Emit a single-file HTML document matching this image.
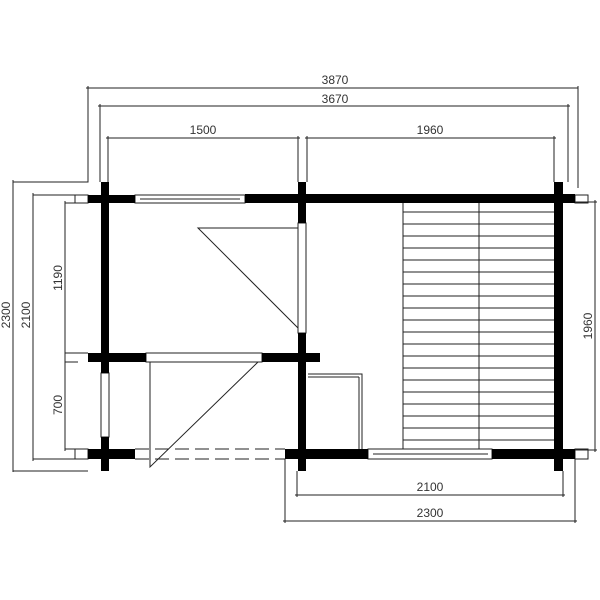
<!DOCTYPE html>
<html><head><style>body{margin:0;background:#fff}svg{display:block}</style></head><body>
<svg width="600" height="600" viewBox="0 0 600 600" xmlns="http://www.w3.org/2000/svg">
<g stroke="#222" stroke-width="1" fill="none">
<line x1="86" y1="88" x2="578" y2="88"/>
<line x1="98" y1="106" x2="570" y2="106"/>
<line x1="106" y1="138" x2="300" y2="138"/>
<line x1="305" y1="138" x2="556" y2="138"/>
<polyline points="88,86 88,182 13,182"/>
<line x1="100" y1="104" x2="100" y2="182"/>
<line x1="568" y1="104" x2="568" y2="182"/>
<line x1="578" y1="86" x2="578" y2="188"/>
<line x1="108" y1="136" x2="108" y2="182"/>
<line x1="298" y1="136" x2="298" y2="182"/>
<line x1="307" y1="136" x2="307" y2="182"/>
<line x1="554" y1="136" x2="554" y2="182"/>
<line x1="13" y1="180" x2="13" y2="472"/>
<line x1="13" y1="471" x2="88" y2="471"/>
<line x1="33" y1="193" x2="33" y2="461"/>
<line x1="33" y1="195" x2="88" y2="195"/>
<line x1="33" y1="459" x2="88" y2="459"/>
<line x1="65" y1="201" x2="65" y2="451"/>
<line x1="65" y1="203" x2="88" y2="203"/>
<line x1="65" y1="353" x2="88" y2="353"/>
<line x1="65" y1="362" x2="78" y2="362"/>
<line x1="65" y1="449" x2="88" y2="449"/>
<rect x="75" y="195" width="13" height="8"/>
<rect x="75" y="449" width="13" height="10"/>
<line x1="595" y1="200" x2="595" y2="452"/>
<line x1="575" y1="202" x2="597" y2="202"/>
<line x1="575" y1="450" x2="597" y2="450"/>
<rect x="575" y="195" width="13" height="8"/>
<rect x="575" y="449" width="13" height="10"/>
<line x1="295" y1="495" x2="565" y2="495"/>
<line x1="283" y1="521" x2="577" y2="521"/>
<line x1="285" y1="459" x2="285" y2="523"/>
<line x1="297" y1="471" x2="297" y2="497"/>
<line x1="563" y1="471" x2="563" y2="497"/>
<line x1="575" y1="459" x2="575" y2="523"/>
<rect x="135" y="195" width="110" height="8"/>
<line x1="140" y1="199" x2="240" y2="199"/>
<rect x="146" y="353" width="116" height="9"/>
<rect x="368" y="449" width="124" height="10"/>
<line x1="373" y1="454" x2="488" y2="454"/>
<rect x="298" y="223" width="8" height="110"/>
<rect x="101" y="373" width="8" height="64"/>
<polyline points="298,228 198,228 298,328"/>
<polyline points="150,362 150,467 258,362"/>
<line x1="135" y1="449" x2="285" y2="449" stroke-dasharray="14,6"/>
<line x1="135" y1="459" x2="285" y2="459" stroke-dasharray="14,6"/>
<polyline points="308,374 362,374 362,449"/>
<line x1="308" y1="377" x2="359" y2="377"/>
<line x1="359" y1="377" x2="359" y2="449"/>
<line x1="403" y1="203" x2="403" y2="449"/>
<line x1="479" y1="203" x2="479" y2="449"/>
</g>
<g stroke="#222" stroke-width="1">
<line x1="403" y1="212" x2="554" y2="212"/><line x1="403" y1="224" x2="554" y2="224"/><line x1="403" y1="236" x2="554" y2="236"/><line x1="403" y1="248" x2="554" y2="248"/><line x1="403" y1="260" x2="554" y2="260"/><line x1="403" y1="272" x2="554" y2="272"/><line x1="403" y1="284" x2="554" y2="284"/><line x1="403" y1="296" x2="554" y2="296"/><line x1="403" y1="308" x2="554" y2="308"/><line x1="403" y1="320" x2="554" y2="320"/><line x1="403" y1="332" x2="554" y2="332"/><line x1="403" y1="344" x2="554" y2="344"/><line x1="403" y1="356" x2="554" y2="356"/><line x1="403" y1="368" x2="554" y2="368"/><line x1="403" y1="380" x2="554" y2="380"/><line x1="403" y1="392" x2="554" y2="392"/><line x1="403" y1="404" x2="554" y2="404"/><line x1="403" y1="416" x2="554" y2="416"/><line x1="403" y1="428" x2="554" y2="428"/><line x1="403" y1="440" x2="554" y2="440"/>
</g>
<g fill="#000">
<rect x="88" y="195" width="47" height="8"/>
<rect x="245" y="194" width="330" height="9"/>
<rect x="101" y="182" width="8" height="191"/>
<rect x="101" y="437" width="8" height="34"/>
<rect x="298" y="182" width="8" height="41"/>
<rect x="298" y="333" width="8" height="138"/>
<rect x="554" y="182" width="9" height="289"/>
<rect x="88" y="353" width="58" height="9"/>
<rect x="262" y="353" width="58" height="9"/>
<rect x="88" y="449" width="47" height="10"/>
<rect x="285" y="449" width="83" height="10"/>
<rect x="492" y="449" width="83" height="10"/>
</g>
<g font-family="Liberation Sans, sans-serif" font-size="12" fill="#333" text-anchor="middle">
<text x="335" y="84">3870</text>
<text x="335" y="103">3670</text>
<text x="203" y="134">1500</text>
<text x="430" y="134">1960</text>
<text x="430" y="491">2100</text>
<text x="430" y="517">2300</text>
<text transform="translate(10,315) rotate(-90)">2300</text>
<text transform="translate(30,315) rotate(-90)">2100</text>
<text transform="translate(62,278) rotate(-90)">1190</text>
<text transform="translate(62,405) rotate(-90)">700</text>
<text transform="translate(592,326) rotate(-90)">1960</text>
</g>
</svg>
</body></html>
